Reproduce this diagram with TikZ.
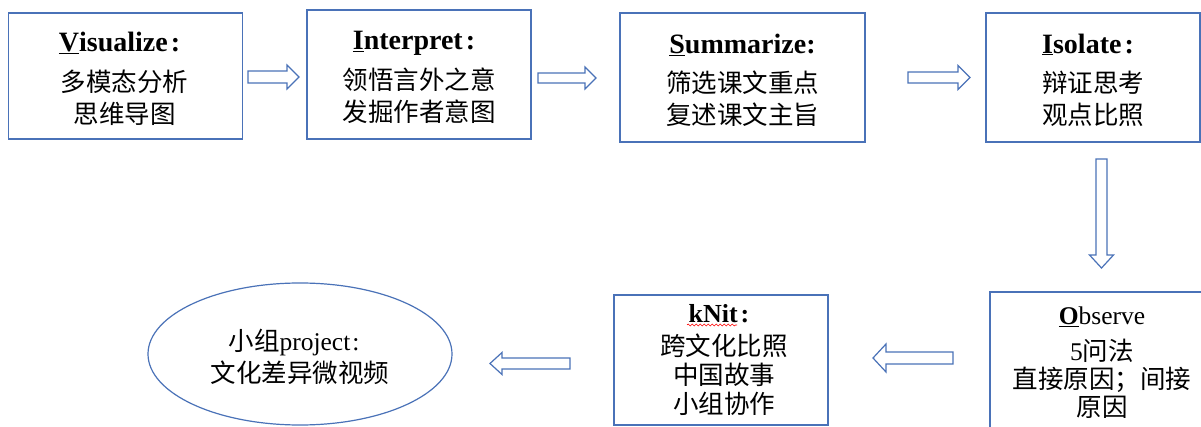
\documentclass[tikz,border=0pt]{standalone}
\usepackage{fontspec}
\setmainfont{Liberation Serif}
\newfontfamily\cjk{Noto Sans CJK SC}
\usetikzlibrary{shapes.geometric,decorations.pathmorphing}
\definecolor{boxblue}{HTML}{4A72B8}
\newcommand\ttlcolon{\kern3pt\textbf{:}\kern10pt}
\tikzset{
  stagebox/.style={draw=boxblue, line width=1.2pt, rectangle, inner sep=0pt},
  goalellipse/.style={draw=boxblue, line width=1.2pt, ellipse, inner sep=0pt},
  stagetext/.style={align=center, inner sep=0pt, font=\fontsize{25.5}{32}\selectfont},
  titlefont/.style={font=\fontsize{28}{32}\selectfont\bfseries},
  blockarrow/.style={draw=boxblue, line width=1.2pt, fill=white, line join=miter},
  spellwave/.style={draw=red, line width=0.6pt, decorate,
    decoration={snake, amplitude=1pt, segment length=4pt}}
}
\newcommand\ttl[1]{{\fontsize{28}{32}\selectfont\bfseries #1}}
\begin{document}
\begin{tikzpicture}[x=1pt, y=-1pt]
\useasboundingbox (0,0) rectangle (1201,427);
\clip (0,0) rectangle (1201,427);
\fill[white] (0,0) rectangle (1201,427);

% top row boxes
\node[stagebox, minimum width=234pt, minimum height=126pt] (vis) at (125.5,76) {};
\node[stagebox, minimum width=224pt, minimum height=129pt] (int) at (419,74.5) {};
\node[stagebox, minimum width=245pt, minimum height=129pt] (sum) at (742.5,77.5) {};
\node[stagebox, minimum width=214pt, minimum height=129pt] (iso) at (1093,77.5) {};
% top row texts
\node[stagetext] (vis-t) at (124.5,78.5)
  {\ttl{\underline{V}isualize\ttlcolon}\\[8pt]{\cjk 多模态分析}\\{\cjk 思维导图}};
\node[stagetext] (int-t) at (419,77.5)
  {\ttl{\underline{I}nterpret\ttlcolon}\\[8pt]{\cjk 领悟言外之意}\\{\cjk 发掘作者意图}};
\node[stagetext] (sum-t) at (742.5,80)
  {\ttl{\underline{S}ummarize:}\\[7pt]{\cjk 筛选课文重点}\\{\cjk 复述课文主旨}};
\node[stagetext] (iso-t) at (1093,80)
  {\ttl{\underline{I}solate\ttlcolon}\\[7pt]{\cjk 辩证思考}\\{\cjk 观点比照}};

% bottom row
\node[stagebox, minimum width=224pt, minimum height=168pt] (obs) at (1102,376) {};
\node[stagetext, font=\fontsize{25.5}{28}\selectfont] (obs-t) at (1102,363)
  {\textbf{\underline{O}}bserve\\[8pt]5{\cjk 问法}\\{\cjk 直接原因；间接}\\{\cjk 原因}};
\node[stagebox, minimum width=214pt, minimum height=130pt] (knit) at (721,360) {};
\node[stagetext, font=\fontsize{25.5}{29}\selectfont] (knit-t) at (724,360.5)
  {{\fontsize{26}{29}\selectfont\bfseries kNit\ttlcolon}\\[4pt]{\cjk 跨文化比照}\\{\cjk 中国故事}\\{\cjk 小组协作}};
\node[goalellipse, minimum width=304pt, minimum height=142pt] (proj) at (300,354) {};
\node[stagetext] (proj-t) at (300,356.5)
  {{\cjk 小组}project\kern2pt:\kern12pt\\{\cjk 文化差异微视频}};

% spell-check wave under kNit
\draw[spellwave] (687,325) -- (737,325);

% block arrows
\draw[blockarrow] (248,71) -- (287,71) -- (287,65) -- (299,77) -- (287,89) -- (287,83) -- (248,83) -- cycle;
\draw[blockarrow] (538,73) -- (585,73) -- (585,67) -- (596,78) -- (585,89) -- (585,83) -- (538,83) -- cycle;
\draw[blockarrow] (908,72) -- (958,72) -- (958,65.5) -- (970,77.5) -- (958,89.5) -- (958,83) -- (908,83) -- cycle;
\draw[blockarrow] (1096,159) -- (1096,255) -- (1089.5,255) -- (1101.5,268) -- (1113.5,255) -- (1107,255) -- (1107,159) -- cycle;
\draw[blockarrow] (953,352) -- (886,352) -- (886,344) -- (873,358) -- (886,372) -- (886,364) -- (953,364) -- cycle;
\draw[blockarrow] (570,358) -- (502,358) -- (502,352.5) -- (490,363.5) -- (502,374.5) -- (502,369) -- (570,369) -- cycle;
\end{tikzpicture}
\end{document}
